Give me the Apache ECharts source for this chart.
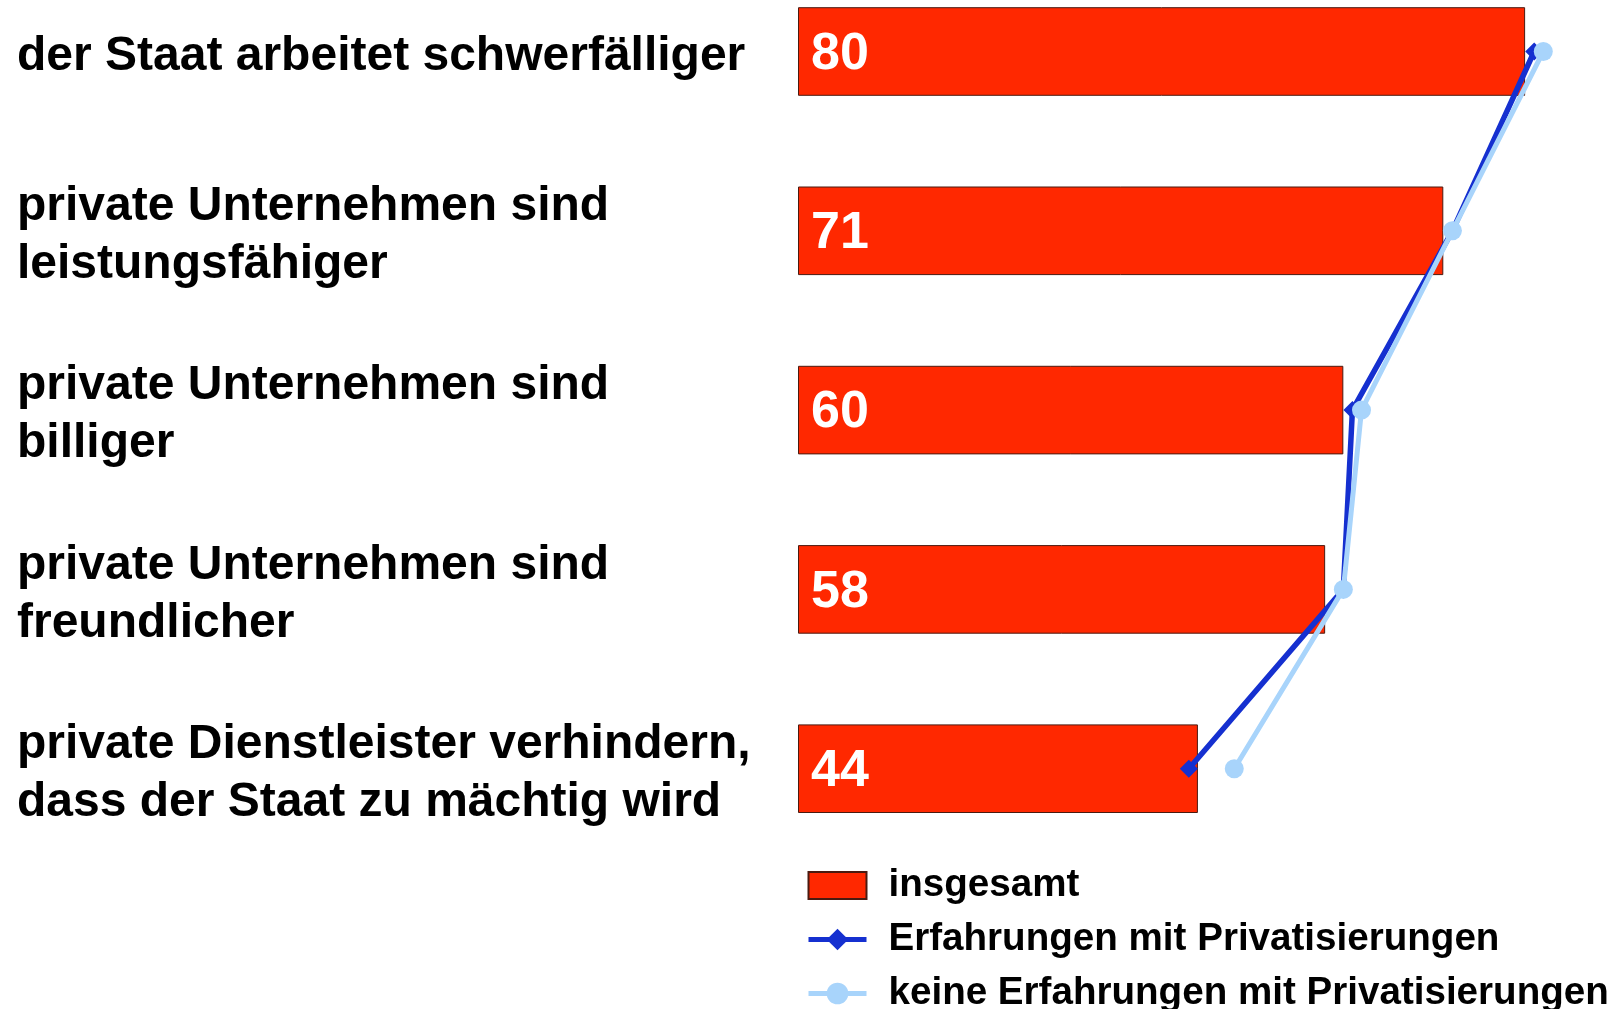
<!DOCTYPE html>
<html>
<head>
<meta charset="utf-8">
<script src="https://cdn.jsdelivr.net/npm/echarts@6/dist/echarts.min.js"></script>
<style>
  html, body { margin: 0; padding: 0; background: #fff; }
  #chart { width: 1616px; height: 1009px; }
</style>
</head>
<body>
<div id="chart"></div>
<script>
// Aussagen (von oben nach unten)
const categories = [
  "der Staat arbeitet schwerfälliger",
  "private Unternehmen sind\nleistungsfähiger",
  "private Unternehmen sind\nbilliger",
  "private Unternehmen sind\nfreundlicher",
  "private Dienstleister verhindern,\ndass der Staat zu mächtig wird"
];
const insgesamt = [80, 71, 60, 58, 44];
const mitErfahrung = [81, 72, 61, 60, 43];
const ohneErfahrung = [82, 72, 62, 60, 48];

const FONT = "'Liberation Sans', Arial, sans-serif";

var myChart = echarts.init(document.getElementById("chart"));
myChart.setOption({
  animation: false,
  // Kategorien liegen auf den Ticks (boundaryGap false), erste Mitte bei y=51.5
  grid: {
    left: 798,
    top: 51.5,
    width: 818,
    height: 717.2,
    containLabel: false,
  },
  xAxis: {
    type: "value",
    min: 0,
    max: 90,
    show: false,
  },
  yAxis: {
    type: "category",
    inverse: true,
    boundaryGap: false,
    data: categories,
    axisLine: { show: false },
    axisTick: { show: false },
    splitLine: { show: false },
    axisLabel: {
      margin: 781,
      align: "left",
      verticalAlign: "middle",
      formatter: (v) => v.split("\n").map((s) => "{t|" + s + "}").join("\n"),
      rich: {
        t: {
          fontFamily: FONT,
          fontWeight: "bold",
          fontSize: 48,
          lineHeight: 58,
          verticalAlign: "bottom",
          color: "#000",
        },
      },
    },
  },
  legend: {
    orient: "vertical",
    left: 806,
    top: 866,
    height: 200,
    padding: 0,
    itemWidth: 58,
    itemHeight: 27,
    itemGap: 15,
    textStyle: {
      fontFamily: FONT,
      fontWeight: "bold",
      fontSize: 38.6,
      color: "#000",
      padding: [0, 0, 0, 17],
    },
    data: [
      { name: "insgesamt", icon: "rect" },
      { name: "Erfahrungen mit Privatisierungen", lineStyle: { width: 5 } },
      { name: "keine Erfahrungen mit Privatisierungen", lineStyle: { width: 5 } },
    ],
  },
  series: [
    {
      name: "insgesamt",
      type: "bar",
      data: insgesamt,
      barWidth: 88.6,
      clip: false,
      itemStyle: {
        color: "#ff2800",
        borderColor: "#4a1a10",
        borderWidth: 1,
      },
      label: {
        show: true,
        position: "insideLeft",
        distance: 13,
        offset: [0, 3],
        color: "#fff",
        fontFamily: FONT,
        fontWeight: "bold",
        fontSize: 52,
      },
    },
    {
      name: "Erfahrungen mit Privatisierungen",
      type: "line",
      data: mitErfahrung,
      clip: false,
      symbol: "diamond",
      symbolSize: 18,
      lineStyle: { color: "#1530d0", width: 5.5 },
      itemStyle: { color: "#1530d0" },
      z: 3,
    },
    {
      name: "keine Erfahrungen mit Privatisierungen",
      type: "line",
      data: ohneErfahrung,
      clip: false,
      symbol: "circle",
      symbolSize: 19,
      lineStyle: { color: "#a8d4fb", width: 5 },
      itemStyle: { color: "#a8d4fb" },
      z: 4,
    },
  ],
});
</script>
</body>
</html>
